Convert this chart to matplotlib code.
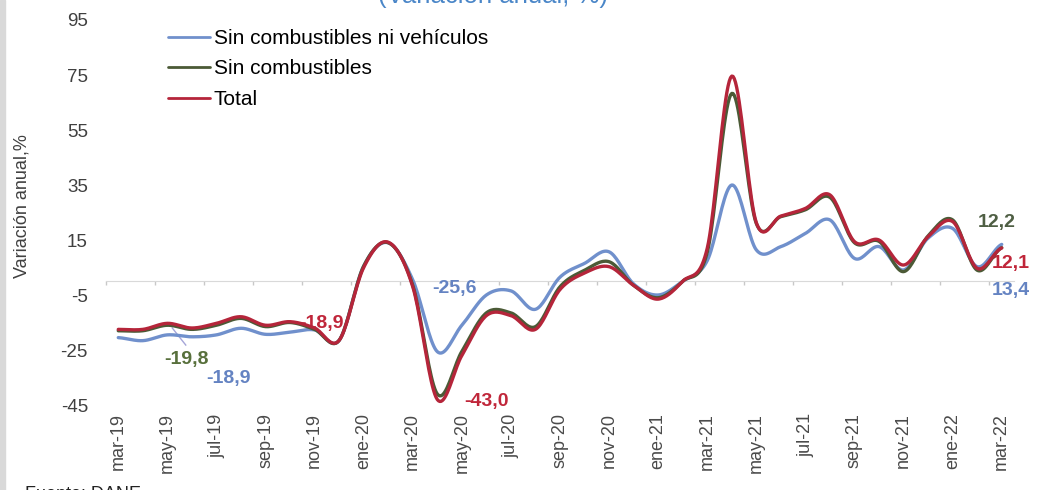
import numpy as np
import matplotlib
matplotlib.use('Agg')
import matplotlib.pyplot as plt
from matplotlib.patches import Rectangle

plt.rcParams['font.family'] = ['Liberation Sans', 'DejaVu Sans']
plt.rcParams['axes.unicode_minus'] = False

# months mar-19 .. mar-22
months = ['mar-19', 'abr-19', 'may-19', 'jun-19', 'jul-19', 'ago-19', 'sep-19', 'oct-19',
          'nov-19', 'dic-19', 'ene-20', 'feb-20', 'mar-20', 'abr-20', 'may-20', 'jun-20',
          'jul-20', 'ago-20', 'sep-20', 'oct-20', 'nov-20', 'dic-20', 'ene-21', 'feb-21',
          'mar-21', 'abr-21', 'may-21', 'jun-21', 'jul-21', 'ago-21', 'sep-21', 'oct-21',
          'nov-21', 'dic-21', 'ene-22', 'feb-22', 'mar-22']

total = [-17.5, -17.5, -15.3, -17.0, -15.3, -12.9, -16.0, -14.7, -17.0, -21.5,
         5.0, 14.2, -2.0, -43.0, -27.0, -12.5, -12.5, -17.5, -3.0, 3.0,
         5.3, -1.5, -6.5, 0.0, 12.0, 74.6, 21.3, 23.7, 26.5, 31.4,
         14.4, 15.0, 5.9, 16.2, 21.7, 4.7, 12.1]

sin_comb = [-18.0, -18.0, -16.0, -17.5, -16.0, -13.5, -16.5, -15.0, -17.5, -21.5,
            5.5, 14.0, -1.5, -41.0, -25.5, -11.5, -11.5, -16.5, -2.0, 4.0,
            7.1, -1.5, -6.0, 0.0, 10.5, 68.3, 21.0, 23.5, 26.0, 30.5,
            14.0, 14.5, 3.5, 16.5, 22.3, 4.0, 12.2]

sin_comb_veh = [-20.5, -21.6, -19.5, -20.2, -19.5, -17.1, -19.3, -18.5, -17.7, -21.5,
                5.5, 14.0, 0.5, -25.6, -16.0, -5.0, -3.5, -10.2, 1.5, 6.5,
                10.7, -1.0, -5.0, 0.0, 7.5, 35.0, 11.4, 12.6, 17.4, 22.3,
                8.3, 12.6, 4.1, 15.7, 19.2, 5.3, 13.4]

names = ['Sin combustibles ni vehículos', 'Sin combustibles', 'Total']
colors = ['#7090cc', '#4b5a36', '#b5253a']


def smooth(vals, n=20):
    # excel-like smoothed line (catmull-rom through the points)
    v = np.asarray(vals, float)
    p = np.concatenate([[v[0]], v, [v[-1]]])
    xs, ys = [], []
    t = np.linspace(0, 1, n, endpoint=False)
    for k in range(len(v) - 1):
        p0, p1, p2, p3 = p[k], p[k + 1], p[k + 2], p[k + 3]
        y = 0.5 * (2 * p1 + (-p0 + p2) * t + (2 * p0 - 5 * p1 + 4 * p2 - p3) * t ** 2
                   + (-p0 + 3 * p1 - 3 * p2 + p3) * t ** 3)
        xs.extend(k + t)
        ys.extend(y)
    xs.append(len(v) - 1)
    ys.append(v[-1])
    return np.array(xs), np.array(ys)


fig = plt.figure(figsize=(10.44, 4.9), dpi=100)
fig.patches.append(Rectangle((0, 0), 5 / 1044, 1, transform=fig.transFigure,
                             color='#d9d9d9', zorder=0))
ax = fig.add_axes([106 / 1044, 85 / 490, 908 / 1044, 385 / 490])

handles = []
for series, name, col in zip([sin_comb_veh, sin_comb, total], names, colors):
    sx, sy = smooth(series)
    h, = ax.plot(sx, sy, color=col, lw=2.4, label=name, zorder=3,
                 solid_capstyle='round')
    handles.append(h)

ax.set_xlim(-0.5, len(months) - 0.5)
ax.set_ylim(-45, 95)
ax.set_yticks(range(-45, 96, 20))
ax.set_xticks(range(0, len(months), 2))
ax.set_xticklabels(months[::2], rotation=90)
for s in ax.spines.values():
    s.set_visible(False)
ax.tick_params(axis='y', length=0, pad=13, labelsize=13.5, labelcolor='#404040')
ax.tick_params(axis='x', length=0, pad=6, labelsize=13, labelcolor='#4a4a4a')

# zero line with tick marks between categories
sec = ax.secondary_xaxis(45 / 140)
sec.set_xticks(np.arange(-0.5, len(months), 2))
sec.set_xticklabels([])
sec.tick_params(length=3, color='#c8c8c8', width=1)
for k, s in sec.spines.items():
    s.set_visible(k == 'bottom')
sec.spines['bottom'].set_color('#d9d9d9')

leg = ax.legend(handles=handles, loc='upper left', bbox_to_anchor=(168 / 1044, 1 - 29 / 490),
                bbox_transform=fig.transFigure, frameon=False, fontsize=15,
                handlelength=2.0, handletextpad=0.2, labelspacing=0.55,
                borderpad=0, borderaxespad=0)
for line in leg.get_lines():
    line.set_linewidth(2)

# data labels
blue_l, green_l, red_l = '#6483c2', '#58703c', '#c0263a'
lab_kw = dict(fontsize=14, fontweight='bold', ha='center', va='center', zorder=2)
ax.text(2.8, -28.6, '-19,8', color=green_l, **lab_kw)
ax.text(4.5, -35.5, '-18,9', color=blue_l, **lab_kw)
ax.text(8.3, -15.2, '-18,9', color=red_l, **lab_kw)
ax.text(13.7, -2.8, '-25,6', color=blue_l, **lab_kw)
ax.text(15.0, -43.9, '-43,0', color=red_l, **lab_kw)
ax.text(35.8, 21.2, '12,2', color='#4f5f44', **lab_kw)
ax.text(36.35, 6.6, '12,1', color=red_l, **lab_kw)
ax.text(36.35, -3.5, '13,4', color=blue_l, **lab_kw)
ax.plot([2.2, 2.75], [-17.0, -23.2], color='#a5a5d8', lw=1, zorder=2)

fig.text(22 / 1044, 1 - 206 / 490, 'Variación anual,%', rotation=90, ha='center',
         va='center', fontsize=13, color='#404040')
fig.text(493 / 1044, 1 - 3 / 490, '(Variación anual, %)', ha='center', va='baseline',
         fontsize=18.5, color='#4a86c8')
fig.text(25 / 1044, 1 - 486 / 490, 'Fuente: DANE', ha='left', va='top',
         fontsize=13, color='#222222')

fig.savefig('out.png', dpi=100)
